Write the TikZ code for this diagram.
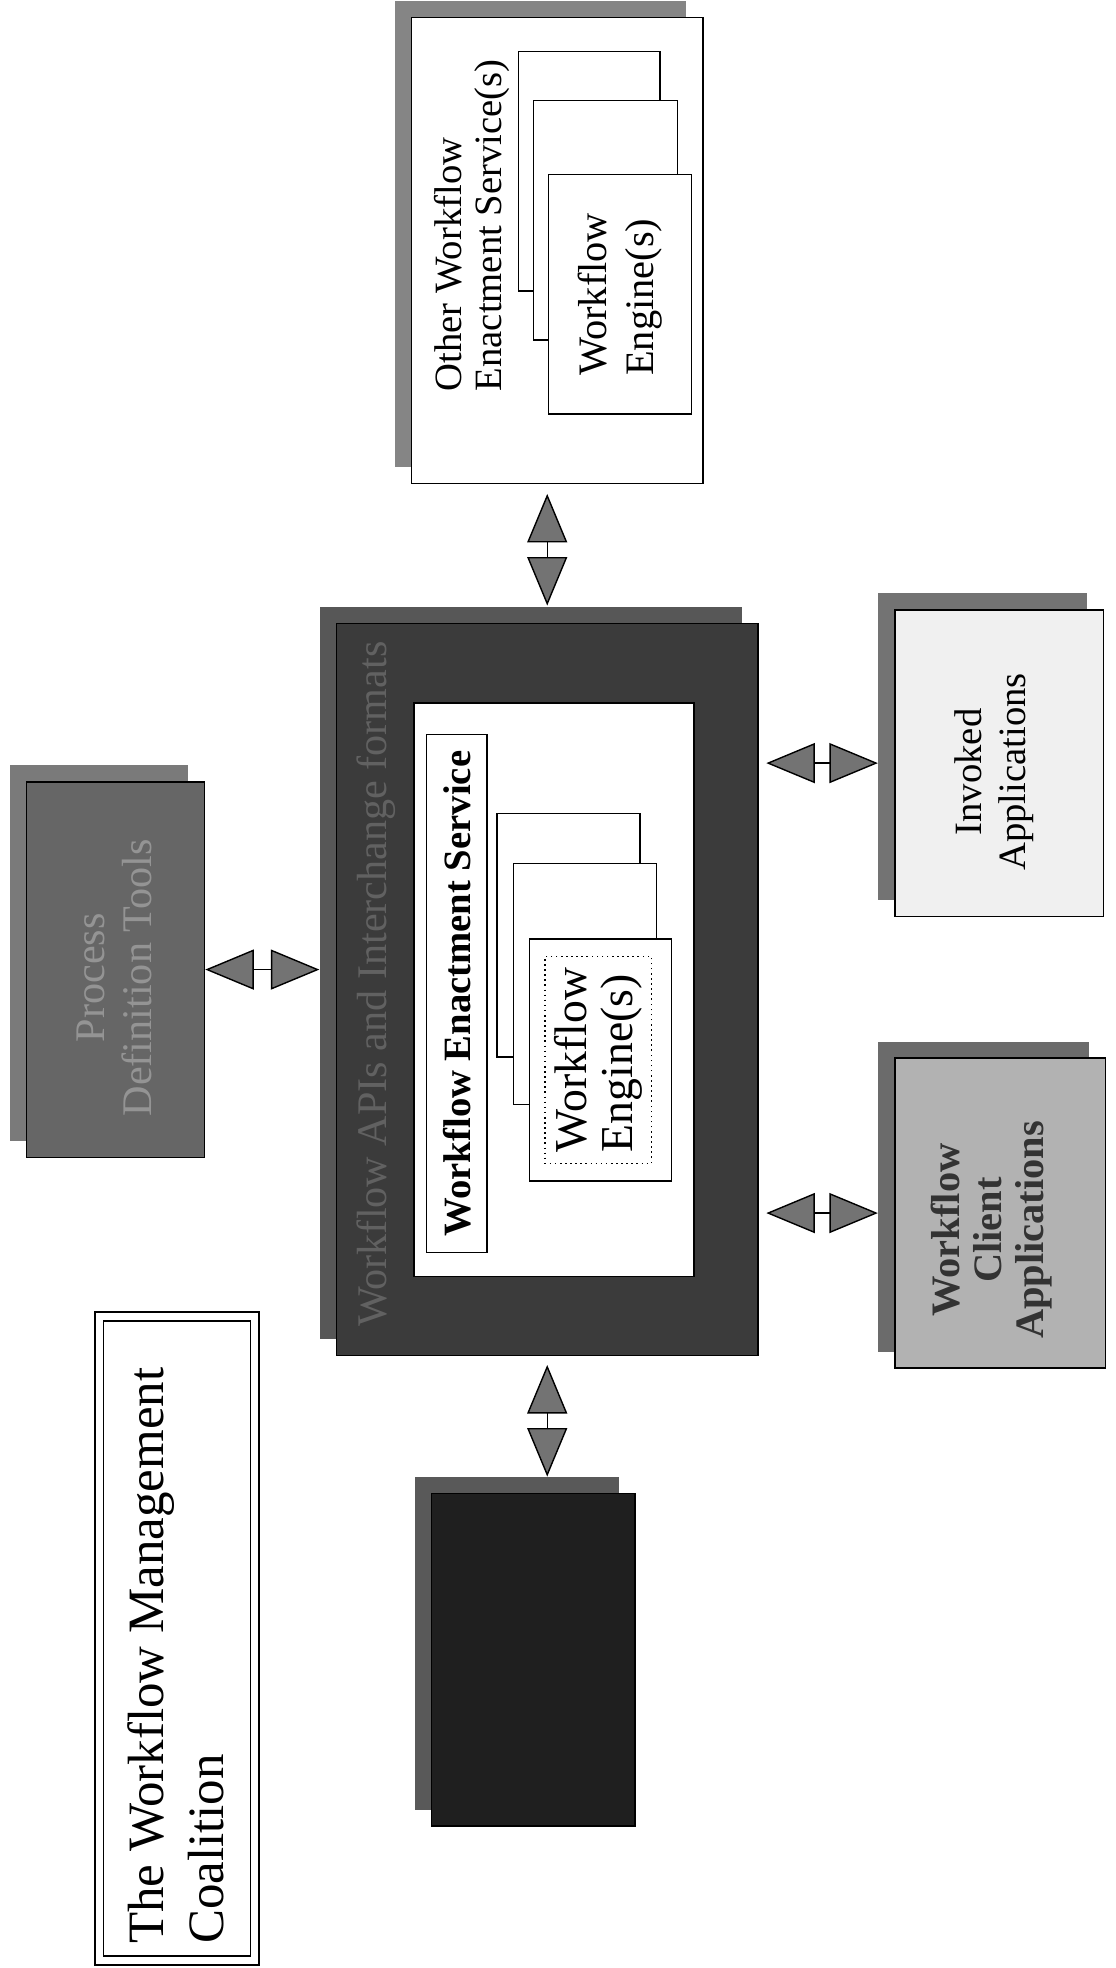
\documentclass[tikz,border=0pt]{standalone}
\usepackage{fontspec}
\setmainfont{Liberation Serif}
\usepackage{tikz}
\usetikzlibrary{fit, positioning, arrows.meta, shadows, calc}

\tikzset{
  panel/.style={draw=black, line width=0.8pt, inner sep=0pt, fill=#1},
  shadowed/.style={copy shadow={shadow xshift=-0.33cm, shadow yshift=0.33cm, fill=#1, draw=none}},
  sheet/.style={draw=black, line width=0.8pt, fill=white, inner sep=0pt},
  vtext/.style={rotate=90, inner sep=0pt},
  biarrow/.style={line width=0.8pt, {Triangle[length=0.97cm, width=0.8cm, fill=black!55]}-{Triangle[length=0.97cm, width=0.8cm, fill=black!55]}}
}

\begin{document}
\begin{tikzpicture}[x=0.0251cm, y=-0.0251cm]
\fill[white] (0,0) rectangle (889,1568);
\useasboundingbox (0,0) rectangle (889,1568);

\node[panel=white, double, double distance=4pt, line width=1pt, fit={(79,1049) (203,1562)}] (title) {};
\node[vtext, align=left, anchor=west, font=\fontsize{29}{34}\selectfont] (titletext) at (140,1549) {The Workflow Management\\Coalition};

% other enactment service
\node[panel=white, shadowed=black!48, fit={(328,14) (560,385)}] (other) {};
\node[sheet, fit={(413,41) (526,232)}] (otherA) {};
\node[sheet, fit={(425,80) (540,271)}] (otherB) {};
\node[sheet, fit={(437,139) (551,330)}] (otherC) {};
\node[vtext, align=left, anchor=west, font=\fontsize{22}{23}\selectfont] (othertext) at (376,312) {Other Workflow\\Enactment Service(s)};
\node[vtext, align=left, font=\fontsize{23}{26.5}\selectfont] (otherengine) at (otherC.center) {Workflow\\Engine(s)};

% central service
\node[panel=black!77, shadowed=black!66, fit={(268,497) (604,1080)}] (wfms) {};
\node[vtext, text=black!62, font=\fontsize{24}{28}\selectfont] (apitext) at (300,784) {Workflow APIs and Interchange formats};
\node[panel=white, fit={(330,560) (553,1017)}] (enact) {};
\node[panel=white, fit={(340,585) (388,998)}] (wesbox) {};
\node[vtext, font=\bfseries\fontsize{22}{26}\selectfont] (westext) at (wesbox.center) {Workflow Enactment Service};
\node[sheet, fit={(396,648) (510,842)}] (engA) {};
\node[sheet, fit={(409,688) (523,880)}] (engB) {};
\node[sheet, fit={(422,748) (535,941)}] (engC) {};
\node[draw=black, dotted, line width=0.9pt, inner sep=0pt, fit={(434,762) (519,927)}] (engdot) {};
\node[vtext, align=left, font=\fontsize{26}{26}\selectfont] (engtext) at (engdot.center) {Workflow\\Engine(s)};

% surrounding tools
\node[panel=black!60, shadowed=black!52, fit={(21,623) (163,922)}] (pdt) {};
\node[vtext, align=center, text=black!42, font=\fontsize{24}{26.5}\selectfont] (pdttext) at (91,779) {Process\\Definition Tools};

\node[panel=black!88, shadowed=black!65, fit={(344,1190) (506,1455)}] (monitor) {};

\node[panel=black!6, shadowed=black!55, fit={(713,486) (879,730)}] (invoked) {};
\node[vtext, align=center, font=\fontsize{22}{25}\selectfont] (invokedtext) at (792,615) {Invoked\\Applications};

\node[panel=black!30, shadowed=black!58, fit={(713,843) (881,1090)}] (client) {};
\node[vtext, align=center, text=black!80, font=\bfseries\fontsize{23}{24}\selectfont] (clienttext) at (790,980) {Workflow\\Client\\Applications};

\draw[biarrow] ($(wfms.north |- other.south)+(0,8)$) -- ($(wfms.north)+(0,-14)$);
\draw[biarrow] ($(wfms.south)+(0,7)$) -- ($(wfms.south |- monitor.north)+(0,-13)$);
\draw[biarrow] (pdt.east) -- ($(wfms.west |- pdt.east)+(-13,0)$);
\draw[biarrow] ($(wfms.east |- invoked.west)+(6,0)$) -- ($(invoked.west)+(-13,0)$);
\draw[biarrow] ($(wfms.east |- client.west)+(6,0)$) -- ($(client.west)+(-13,0)$);
\end{tikzpicture}
\end{document}
